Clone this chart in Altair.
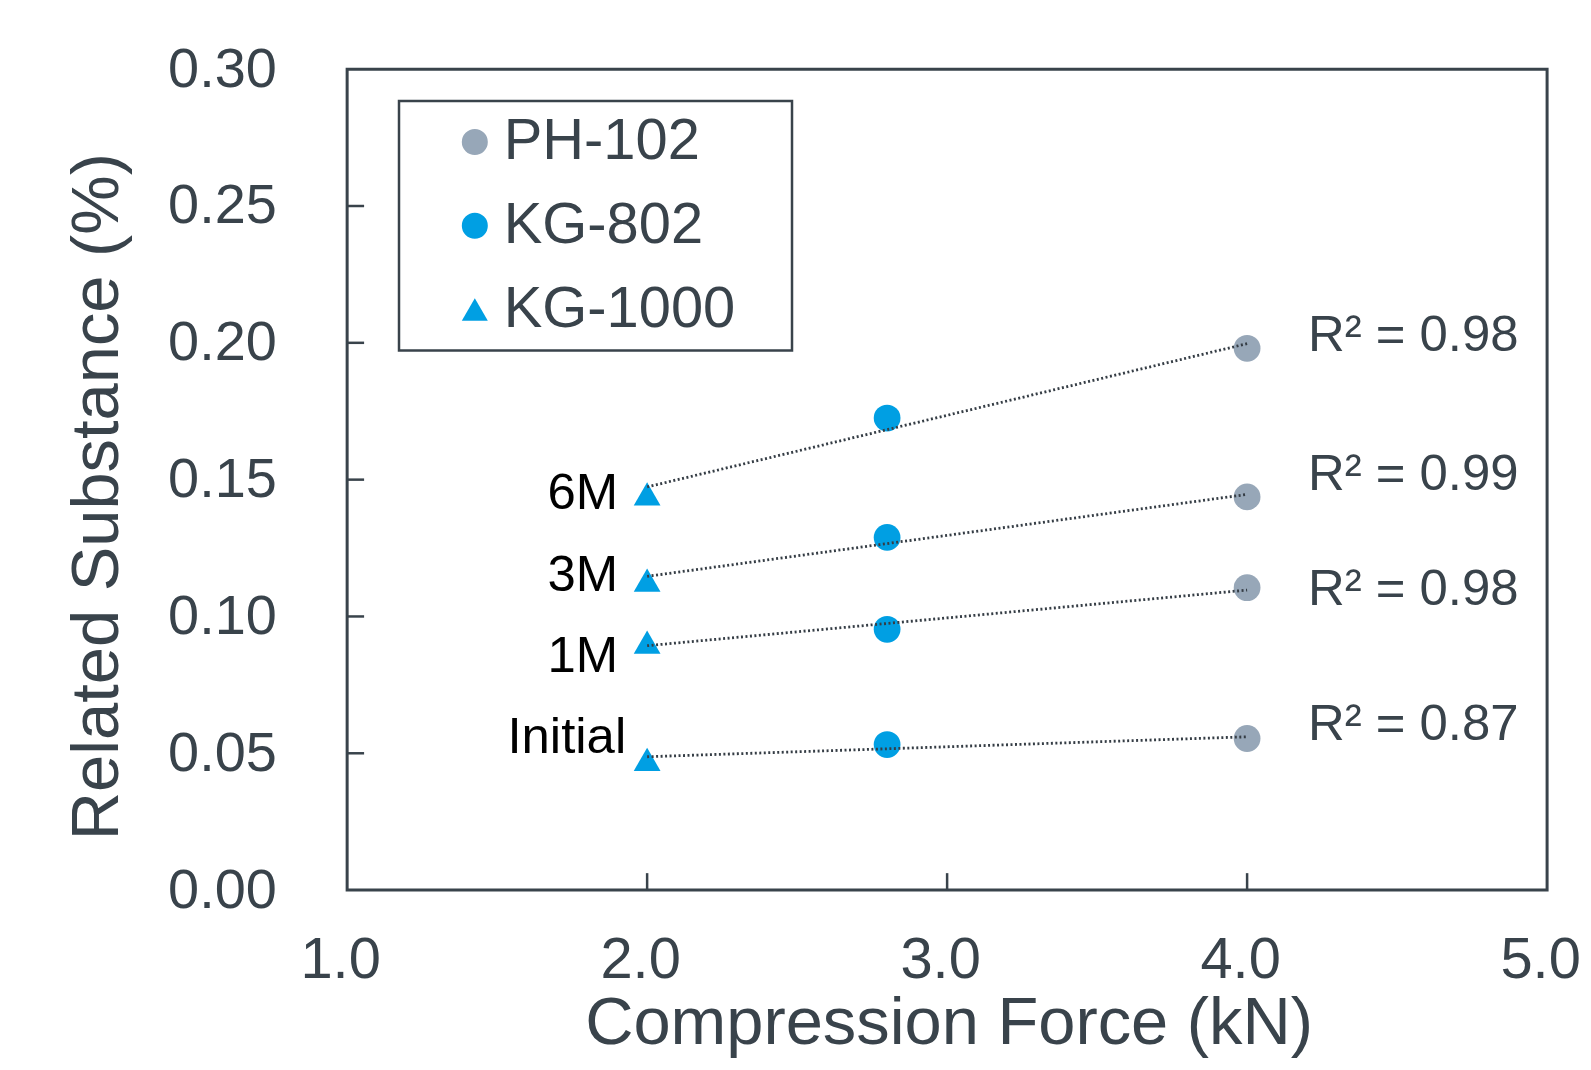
import altair as alt
import pandas as pd

# ---- data ----
stages = ["Initial", "1M", "3M", "6M"]
materials = ["PH-102", "KG-802", "KG-1000"]
forces = [4.0, 2.8, 2.0]  # compression force (kN) of each material
ph102 = [0.0554, 0.1105, 0.1437, 0.1980]
kg802 = [0.0532, 0.0953, 0.1289, 0.1725]
kg1000 = [0.0478, 0.0906, 0.1133, 0.1448]
r2_labels = ["R² = 0.87", "R² = 0.98", "R² = 0.99", "R² = 0.98"]
r2_y = [0.0602, 0.1097, 0.1518, 0.2025]
stage_label_y = [0.0554, 0.0853, 0.1149, 0.1448]
x_ticks = [1.0, 2.0, 3.0, 4.0, 5.0]
y_ticks = [0.00, 0.05, 0.10, 0.15, 0.20, 0.25, 0.30]
x_inner_ticks = [2.0, 3.0, 4.0]
y_inner_ticks = [0.05, 0.10, 0.15, 0.20, 0.25]

colors = ["#97a7b8", "#009fe3", "#009fe3"]
shapes = ["circle", "circle", "triangle-up"]
TXT = "#39434b"
FONT = "Liberation Sans"

rows = []
series = {"PH-102": ph102, "KG-802": kg802, "KG-1000": kg1000}
for m, f in zip(materials, forces):
    for s, v in zip(stages, series[m]):
        rows.append({"material": m, "force": f, "stage": s, "value": v})
df = pd.DataFrame(rows)

r2_df = pd.DataFrame({"label": r2_labels, "y": r2_y, "x": [4.0] * 4})
stage_df = pd.DataFrame({"label": stages, "y": stage_label_y, "x": [2.0] * 4})
xt_df = pd.DataFrame({"x": x_inner_ticks})
yt_df = pd.DataFrame({"y": y_inner_ticks})

W, H = 1203, 823

xscale = alt.Scale(domain=[1, 5], nice=False, zero=False)
yscale = alt.Scale(domain=[0, 0.30], nice=False)

# invisible tiny title on the right only widens the legend frame
legend = alt.Legend(
    title=".", titleOrient="right", titleFontSize=1, titleOpacity=0,
    titlePadding=44,
    orient="none", legendX=52, legendY=32,
    strokeColor=TXT, fillColor="white", padding=12,
    labelFont=FONT, labelFontSize=58, labelColor=TXT, labelLimit=700,
    symbolSize=680, symbolOffset=35, labelOffset=0, rowPadding=26,
    symbolStrokeWidth=0,
)

points = alt.Chart(df).mark_point(filled=True, opacity=1, size=720).encode(
    x=alt.X("force:Q", scale=xscale,
            axis=alt.Axis(values=x_ticks, format=".1f", title="Compression Force (kN)",
                          labelFont=FONT, labelFontSize=58, labelColor=TXT,
                          labelPadding=42, labelOffset=-7, labelFlush=False,
                          labelOverlap=False, labelBound=False,
                          ticks=False, tickSize=0,
                          domain=False, grid=False,
                          titleFont=FONT, titleFontSize=67, titleColor=TXT,
                          titleFontWeight="normal", titleX=603, titleY=154,
                          titleBaseline="alphabetic")),
    y=alt.Y("value:Q", scale=yscale,
            axis=alt.Axis(values=y_ticks, format=".2f", title="Related Substance (%)",
                          labelFont=FONT, labelFontSize=56, labelColor=TXT,
                          labelPadding=71, labelFlush=False, labelOverlap=False,
                          ticks=False, tickSize=0,
                          domain=False, grid=False,
                          titleFont=FONT, titleFontSize=67, titleColor=TXT,
                          titleFontWeight="normal", titleX=-250, titleY=428,
                          titleBaseline="middle", titleAlign="center")),
    color=alt.Color("material:N", scale=alt.Scale(domain=materials, range=colors), legend=legend),
    shape=alt.Shape("material:N", scale=alt.Scale(domain=materials, range=shapes), legend=legend),
)

lines = alt.Chart(df).transform_regression(
    "force", "value", groupby=["stage"]
).mark_line(color="#353d45", strokeDash=[2, 2.5], strokeWidth=2.8).encode(
    x=alt.X("force:Q", scale=xscale),
    y=alt.Y("value:Q", scale=yscale),
    detail="stage:N",
)

r2_text = alt.Chart(r2_df).mark_text(
    align="left", baseline="middle", dx=61, font=FONT, fontSize=51, color=TXT
).encode(x=alt.X("x:Q", scale=xscale), y=alt.Y("y:Q", scale=yscale), text="label:N")

stage_text_a = alt.Chart(stage_df).transform_filter("datum.label != 'Initial'").mark_text(
    align="right", baseline="middle", dx=-29, font=FONT, fontSize=51, color="black"
).encode(x=alt.X("x:Q", scale=xscale), y=alt.Y("y:Q", scale=yscale), text="label:N")

stage_text_b = alt.Chart(stage_df).transform_filter("datum.label == 'Initial'").mark_text(
    align="right", baseline="middle", dx=-21, font=FONT, fontSize=51, color="black"
).encode(x=alt.X("x:Q", scale=xscale), y=alt.Y("y:Q", scale=yscale), text="label:N")

x_tick_rules = alt.Chart(xt_df).mark_rule(color=TXT, strokeWidth=2.5).encode(
    x=alt.X("x:Q", scale=xscale), y=alt.value(H), y2=alt.value(H - 17)
)
y_tick_rules = alt.Chart(yt_df).mark_rule(color=TXT, strokeWidth=2.5).encode(
    y=alt.Y("y:Q", scale=yscale), x=alt.value(0), x2=alt.value(17)
)

chart = alt.layer(
    x_tick_rules, y_tick_rules, points, lines, r2_text, stage_text_a, stage_text_b
).properties(
    width=W, height=H,
    autosize=alt.AutoSizeParams(type="none"),
    padding={"left": 340, "top": 60, "right": 36, "bottom": 171},
    background="white",
).configure_view(
    stroke=TXT, strokeWidth=3
).configure_legend(
    strokeWidth=2.5
)

chart.save("out.html", embed_options={"renderer": "svg", "actions": False})
